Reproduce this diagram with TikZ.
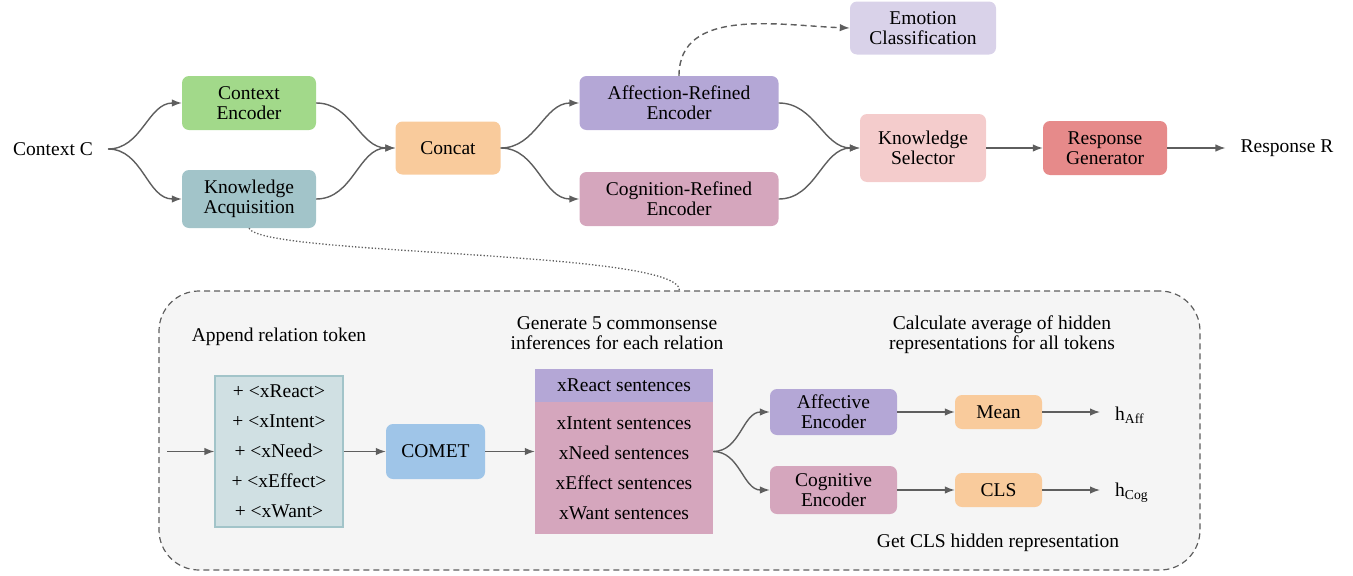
\documentclass[tikz,border=0pt]{standalone}
\usepackage{fontspec}
\setmainfont{Liberation Serif}
\usetikzlibrary{arrows.meta}
\definecolor{arrowgray}{HTML}{5E5E5E}
\definecolor{ctxgreen}{HTML}{A2D98A}
\definecolor{kacyan}{HTML}{A2C4C9}
\definecolor{tokfill}{HTML}{D0E0E3}
\definecolor{concatorange}{HTML}{F9CB9C}
\definecolor{affpurple}{HTML}{B4A7D6}
\definecolor{cogpink}{HTML}{D5A6BD}
\definecolor{emolilac}{HTML}{D9D2E9}
\definecolor{selpink}{HTML}{F4CCCC}
\definecolor{genred}{HTML}{E68A8A}
\definecolor{cometblue}{HTML}{9FC5E8}
\definecolor{panelgray}{HTML}{F5F5F5}

\begin{document}
\begin{tikzpicture}[x=1pt, y=-1pt, font=\fontsize{19.5}{20}\selectfont]
            \tikzset{box/.style = {rounded corners=7pt, align=center, inner sep=0pt}}
            \tikzset{flow/.style = {arrowgray, line width=1.4pt, -{Latex[length=10pt, width=7.5pt]}}}
            \tikzset{label/.style = {align=center, inner xsep=8pt}}
            \useasboundingbox (0, 0) rectangle (1353, 576);
            % top row
            \node[label, inner xsep=15pt] (ctx) at (53, 149) {Context C};
            \node[box, fill=ctxgreen, minimum width=134, minimum height=54] (enc) at (249, 103) {Context\\Encoder};
            \node[box, fill=kacyan, minimum width=134, minimum height=58] (ka) at (249, 199) {Knowledge\\Acquisition};
            \node[box, fill=concatorange, minimum width=105, minimum height=53] (cat) at (448, 148) {Concat};
            \node[box, fill=affpurple, minimum width=199, minimum height=54] (aff) at (679, 103) {Affection-Refined\\Encoder};
            \node[box, fill=cogpink, minimum width=199, minimum height=54] (cog) at (679, 199) {Cognition-Refined\\Encoder};
            \node[box, fill=emolilac, minimum width=146, minimum height=53] (emo) at (923, 28) {Emotion\\Classification};
            \node[box, fill=selpink, minimum width=126, minimum height=68] (sel) at (923, 148) {Knowledge\\Selector};
            \node[box, fill=genred, minimum width=124, minimum height=54] (gen) at (1105, 148) {Response\\Generator};
            \node[label, inner xsep=15pt] (resp) at (1287, 148) {Response R};
            \draw[flow] (ctx.east) to[out=0, in=180] (enc.west);
            \draw[flow] (ctx.east) to[out=0, in=180] (ka.west);
            \draw[flow] (enc.east) to[out=0, in=180] (cat.west);
            \draw[flow] (ka.east) to[out=0, in=180] (cat.west);
            \draw[flow] (cat.east) to[out=0, in=180] (aff.west);
            \draw[flow] (cat.east) to[out=0, in=180] (cog.west);
            \draw[flow] (aff.east) to[out=0, in=180] (sel.west);
            \draw[flow] (cog.east) to[out=0, in=180] (sel.west);
            \draw[flow] (sel) -- (gen);
            \draw[flow] (gen) -- (resp);
            \draw[flow, dash pattern=on 6pt off 4pt] (aff.north) to[out=90, in=178] (emo.west);
            % knowledge acquisition detail
            \node[draw=arrowgray, line width=1.2pt, dash pattern=on 6pt off 4pt, fill=panelgray, rounded corners=40pt, minimum width=1041, minimum height=279, inner sep=0pt] (panel) at (679.5, 430.5) {};
            \draw[arrowgray, line width=1.3pt, dotted] (ka.south) .. controls (262, 256) and (680, 250) .. (panel.north);
            \node[label] (app) at (279, 337) {Append relation token};
            \node[draw=kacyan, line width=1.2pt, fill=tokfill, minimum width=128, minimum height=151, inner sep=0pt, align=center] (tok) at (279, 451.5) {+ <xReact>\\[10pt] + <xIntent>\\[10pt] + <xNeed>\\[10pt] + <xEffect>\\[10pt] + <xWant>};
            \coordinate (in) at (167, 451.5);
            \node[box, fill=cometblue, minimum width=99, minimum height=55] (comet) at (435.5, 451.5) {COMET};
            \node[label] (gen5) at (617, 333) {Generate 5 commonsense\\inferences for each relation};
            \node[fill=affpurple, minimum width=178, minimum height=33, inner sep=0pt] (react) at (624, 385.5) {xReact sentences};
            \node[fill=cogpink, minimum width=178, minimum height=132, inner sep=0pt, align=center, anchor=north] (sent) at (react.south) {xIntent sentences\\[10pt] xNeed sentences\\[10pt] xEffect sentences\\[10pt] xWant sentences};
            \node[box, fill=affpurple, minimum width=127, minimum height=46] (affenc) at (833.5, 412) {Affective\\Encoder};
            \node[box, fill=cogpink, minimum width=127, minimum height=48] (cogenc) at (833.5, 490) {Cognitive\\Encoder};
            \node[box, fill=concatorange, minimum width=87, minimum height=34] (mean) at (998.5, 412) {Mean};
            \node[box, fill=concatorange, minimum width=87, minimum height=34] (cls) at (998.5, 490) {CLS};
            \node[anchor=west, inner xsep=15pt, inner ysep=0pt] (haff) at (1100, 415) {h\textsubscript{Aff}};
            \node[anchor=west, inner xsep=15pt, inner ysep=0pt] (hcog) at (1100, 493) {h\textsubscript{Cog}};
            \node[label] (avg) at (1002, 335) {Calculate average of hidden\\representations for all tokens};
            \node[label] (getcls) at (998, 543) {Get CLS hidden representation};
            \draw[flow] (in) -- (tok.west);
            \draw[flow] (tok) -- (comet);
            \draw[flow] (comet) -- (sent.west |- comet);
            \draw[flow] (sent.east |- comet) to[out=0, in=180] (affenc.west);
            \draw[flow] (sent.east |- comet) to[out=0, in=180] (cogenc.west);
            \draw[flow] (affenc) -- (mean);
            \draw[flow] (cogenc) -- (cls);
            \draw[flow] (mean) -- (mean -| haff.west);
            \draw[flow] (cls) -- (cls -| hcog.west);
        \end{tikzpicture}
\end{document}
